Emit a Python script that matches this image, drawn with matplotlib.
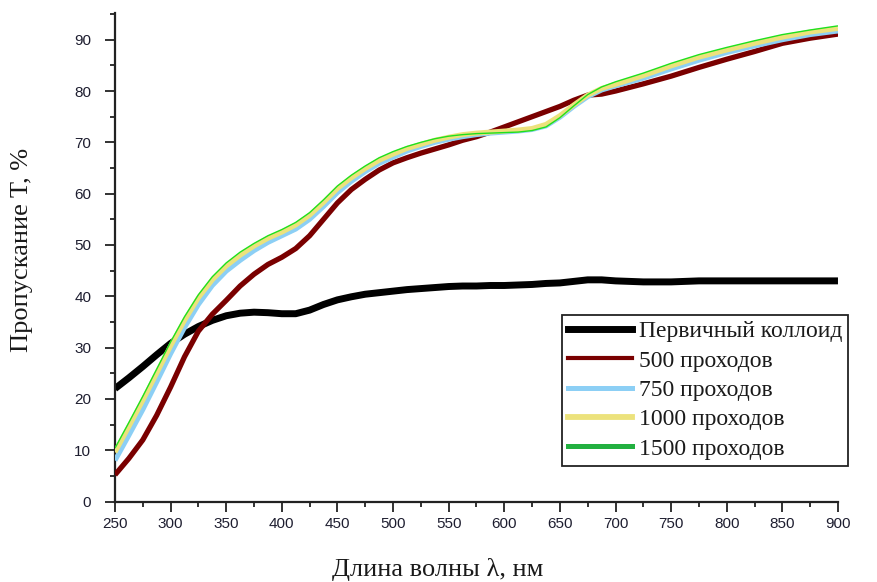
import matplotlib
matplotlib.use('Agg')
import matplotlib.pyplot as plt
from matplotlib.lines import Line2D
from matplotlib.ticker import MultipleLocator

# длины волн, нм
wl = [250, 262.5, 275, 287.5, 300, 312.5, 325, 337.5, 350,
      362.5, 375, 387.5, 400, 412.5, 425, 437.5, 450,
      462.5, 475, 487.5, 500, 512.5, 525, 537.5, 550,
      562.5, 575, 587.5, 600, 612.5, 625, 637.5, 650,
      662.5, 675, 687.5, 700,
      725, 750, 775, 800, 825, 850, 875, 900]

# пропускание T, % для каждого образца
t_colloid = [22.0, 24.1, 26.3, 28.6, 30.8, 32.6, 34.1, 35.3, 36.2,
             36.7, 36.9, 36.8, 36.6, 36.6, 37.3, 38.4, 39.3,
             39.9, 40.4, 40.7, 41.0, 41.3, 41.5, 41.7, 41.9,
             42.0, 42.0, 42.1, 42.1, 42.2, 42.3, 42.5, 42.6,
             42.9, 43.2, 43.2, 43.0,
             42.8, 42.8, 43.0, 43.0, 43.0, 43.0, 43.0, 43.0]
t_500 = [5.2, 8.4, 12.0, 16.8, 22.3, 28.2, 33.2, 36.5, 39.2,
         42.0, 44.3, 46.2, 47.6, 49.3, 51.8, 55.0, 58.2,
         60.8, 62.8, 64.6, 66.0, 67.0, 67.9, 68.7, 69.5,
         70.4, 71.1, 72.0, 73.0, 74.0, 75.0, 76.0, 77.0,
         78.2, 79.2, 79.4, 80.0,
         81.4, 82.9, 84.6, 86.2, 87.7, 89.3, 90.3, 91.1]
t_750 = [8.0, 12.9, 17.9, 23.3, 28.8, 33.9, 38.4, 42.1, 44.9,
         47.0, 48.9, 50.5, 51.8, 53.1, 55.0, 57.5, 60.2,
         62.4, 64.3, 65.9, 67.1, 68.3, 69.2, 70.0, 70.6,
         71.1, 71.5, 71.8, 72.0, 72.2, 72.5, 73.2, 74.9,
         77.0, 78.9, 80.2, 81.0,
         82.5, 84.3, 86.0, 87.5, 88.8, 90.0, 91.0, 91.7]
t_1000 = [9.6, 14.6, 19.7, 25.0, 30.3, 35.3, 39.7, 43.2, 45.9,
          48.0, 49.8, 51.3, 52.5, 53.9, 55.8, 58.3, 61.0,
          63.1, 64.9, 66.5, 67.7, 68.8, 69.6, 70.4, 71.0,
          71.5, 71.8, 72.0, 72.2, 72.4, 72.7, 73.5, 75.2,
          77.3, 79.2, 80.5, 81.3,
          83.0, 84.9, 86.6, 88.0, 89.3, 90.5, 91.5, 92.2]
t_1500 = [10.4, 15.4, 20.5, 25.8, 31.1, 36.0, 40.3, 43.8, 46.5,
          48.6, 50.3, 51.8, 53.0, 54.4, 56.3, 58.8, 61.5,
          63.6, 65.4, 67.0, 68.2, 69.2, 70.0, 70.7, 71.2,
          71.5, 71.7, 71.8, 71.9, 72.0, 72.3, 73.0, 74.8,
          77.1, 79.3, 80.8, 81.8,
          83.5, 85.4, 87.1, 88.5, 89.8, 91.0, 91.9, 92.7]

labels = ['Первичный коллоид', '500 проходов', '750 проходов',
          '1000 проходов', '1500 проходов']

serif = ['Liberation Serif', 'DejaVu Serif']

fig = plt.figure(figsize=(8.77, 5.82), dpi=100)
ax = fig.add_axes([0.1311, 0.1383, 0.8244, 0.8393])

ax.plot(wl, t_colloid, color='black', lw=5.0, solid_capstyle='butt', zorder=2)
ax.plot(wl, t_500, color='#7a0000', lw=3.8, solid_capstyle='butt', zorder=3)
ax.plot(wl, t_750, color='#8ccff5', lw=3.6, solid_capstyle='butt', zorder=4)
ax.plot(wl, t_1000, color='#ece27c', lw=3.6, solid_capstyle='butt', zorder=5)
ax.plot(wl, t_1500, color='#1ee01e', lw=1.0, solid_capstyle='butt', zorder=6)

ax.set_xlim(250, 900)
ax.set_ylim(0, 95.2)

# оси: только левая и нижняя
for side in ['top', 'right']:
    ax.spines[side].set_visible(False)
for side in ['left', 'bottom']:
    ax.spines[side].set_linewidth(1.6)
    ax.spines[side].set_color('#222222')

ax.xaxis.set_major_locator(MultipleLocator(50))
ax.xaxis.set_minor_locator(MultipleLocator(25))
ax.yaxis.set_major_locator(MultipleLocator(10))
ax.yaxis.set_minor_locator(MultipleLocator(5))
ax.tick_params(which='major', direction='out', length=7, width=1.3, color='#222222',
               labelsize=11, labelcolor='#1e1e30')
ax.tick_params(which='minor', direction='out', length=3.6, width=1.3, color='#222222')
ax.tick_params(axis='y', which='major', pad=10)
ax.tick_params(axis='x', which='major', pad=4)
for lab in ax.get_xticklabels() + ax.get_yticklabels():
    lab.set_family('Liberation Sans')

fig.text(0.4989, 0.0223, 'Длина волны λ, нм', family=serif, fontsize=19,
         ha='center', va='center', color='#1a1a1a')
fig.text(0.0251, 0.5704, 'Пропускание T, %', family=serif, fontsize=19,
         ha='center', va='center', rotation=90, color='#1a1a1a')

# легенда с собственными маркерами линий
handles = [Line2D([], [], color='black', lw=5.0),
           Line2D([], [], color='#7a0000', lw=3.0),
           Line2D([], [], color='#8ccff5', lw=3.6),
           Line2D([], [], color='#ece27c', lw=4.2),
           Line2D([], [], color='#22b040', lw=3.6)]
leg = ax.legend(handles, labels, loc='upper left',
                bbox_to_anchor=(562 / 877, (582 - 315) / 582),
                bbox_transform=fig.transFigure,
                prop={'family': serif, 'size': 17},
                frameon=True, fancybox=False, framealpha=1,
                handlelength=2.7, handletextpad=0.3, labelspacing=0.33,
                borderpad=0.25, borderaxespad=0, handleheight=0.7)
leg.get_frame().set_edgecolor('#222222')
leg.get_frame().set_linewidth(1.3)
for txt in leg.get_texts():
    txt.set_color('#1a1a1a')

fig.savefig('out.png', dpi=100)
